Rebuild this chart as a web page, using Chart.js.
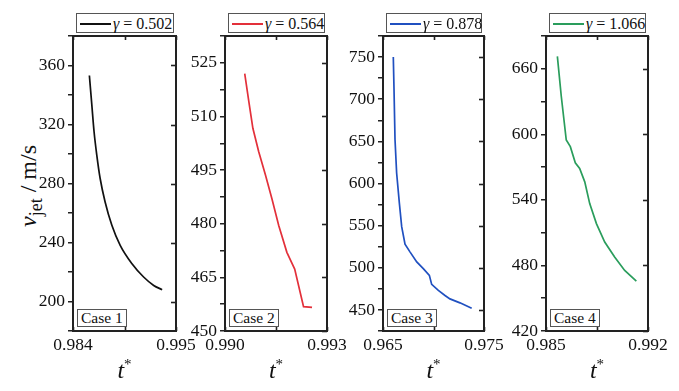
<!DOCTYPE html>
<html lang="en">
<head>
<meta charset="UTF-8">
<title>Jet velocity vs t*</title>
<script src="https://cdn.jsdelivr.net/npm/chart.js"></script>
<style>
  body { margin: 0; background: #fff; width: 679px; height: 391px; position: relative; overflow: hidden;
         font-family: "Liberation Serif", "DejaVu Serif", serif; color: #111; }
  canvas { position: absolute; }
  .legend { position: absolute; top: 13px; height: 20px; border: 1px solid #555; background: #fff;
            font-size: 16px; line-height: 19px; white-space: nowrap; box-sizing: border-box; }
  .legend .swatch { display: inline-block; width: 31px; height: 0; border-top: 2px solid; vertical-align: middle;
                    margin: 0 2px 0 3px; position: relative; top: -1px; }
  .case { position: absolute; top: 309px; height: 18px; border: 1px solid #555; background: #fff;
          font-size: 15.5px; line-height: 16px; padding: 0 3px; box-sizing: border-box; }
  .ytitle { position: absolute; left: 31px; top: 186px; font-size: 24px; white-space: nowrap;
            transform: translate(-50%, -50%) rotate(-90deg); }
  .xtitle { position: absolute; top: 356px; font-size: 24px; transform: translateX(-50%); }
  sub { font-size: 18px; }
  sup { font-size: 15px; }
</style>
</head>
<body>

<div class="ytitle"><i>v</i><sub>jet</sub> / m/s</div>

<script>
// gamma values for each case
const gammas = ['0.502', '0.564', '0.878', '1.066'];
const caseNames = ['Case 1', 'Case 2', 'Case 3', 'Case 4'];
const colors = ['#111111', '#e3303a', '#2050c0', '#2a9d5c'];

// Case 1
const t1 = [0.98575, 0.98601, 0.98625, 0.98654, 0.98690, 0.98743, 0.98815, 0.98904, 0.99030, 0.99154, 0.99262, 0.99352];
const v1 = [353.2, 333.3, 315.1, 299.3, 283.4, 267.5, 251.7, 238.1, 225.6, 216.6, 210.9, 208.0];
// Case 2
const t2 = [0.99058, 0.99070, 0.99082, 0.99099, 0.99119, 0.99138, 0.99158, 0.99182, 0.99205, 0.99231, 0.99256];
const v2 = [522.0, 514.2, 506.7, 500.2, 493.6, 487.0, 479.5, 472.0, 467.3, 456.8, 456.6];
// Case 3
const t3 = [0.96602, 0.96609, 0.96619, 0.96635, 0.96662, 0.96685, 0.96718, 0.96767, 0.96834, 0.96899, 0.96959, 0.96982, 0.97048, 0.97114, 0.97163, 0.97262, 0.97378];
const v3 = [750, 712, 652, 612.5, 576.7, 548.8, 528.1, 518.9, 507, 499, 491, 480.3, 473.1, 467.1, 463.1, 458.4, 452];
// Case 4
const t4 = [0.98578, 0.98605, 0.98639, 0.98667, 0.98701, 0.98731, 0.98766, 0.98800, 0.98846, 0.98903, 0.98971, 0.99040, 0.99120];
const v4 = [671.3, 634.6, 594.8, 588.7, 574, 568.8, 556.5, 536.6, 518.3, 501.4, 487.7, 475.4, 465.6];

// axis ranges and tick labels
const xTicks1 = [0.984, 0.9895, 0.995], xLabels1 = [0.984, 0.995];
const xTicks2 = [0.990, 0.9915, 0.993], xLabels2 = [0.990, 0.993];
const xTicks3 = [0.965, 0.970, 0.975],  xLabels3 = [0.965, 0.975];
const xTicks4 = [0.985, 0.9885, 0.992], xLabels4 = [0.985, 0.992];
const yRange1 = [180, 380],   yStep1 = 20,  yLabels1 = [200, 240, 280, 320, 360];
const yRange2 = [450, 532.5], yStep2 = 7.5, yLabels2 = [450, 465, 480, 495, 510, 525];
const yRange3 = [425, 775],   yStep3 = 25,  yLabels3 = [450, 500, 550, 600, 650, 700, 750];
const yRange4 = [420, 690],   yStep4 = 30,  yLabels4 = [420, 480, 540, 600, 660];

const panels = [
  { t: t1, v: v1, xt: xTicks1, xl: xLabels1, yr: yRange1, ys: yStep1, yl: yLabels1, L: 73,  R: 176, mono: true },
  { t: t2, v: v2, xt: xTicks2, xl: xLabels2, yr: yRange2, ys: yStep2, yl: yLabels2, L: 225, R: 327 },
  { t: t3, v: v3, xt: xTicks3, xl: xLabels3, yr: yRange3, ys: yStep3, yl: yLabels3, L: 383, R: 484 },
  { t: t4, v: v4, xt: xTicks4, xl: xLabels4, yr: yRange4, ys: yStep4, yl: yLabels4, L: 546, R: 648 }
];

const TOP = 36, BOTTOM = 331, PAD_T = 14, PAD_R = 26, YW = 60, XH = 32;

// frame + inward ticks (right side majors, top/bottom x ticks)
const framePlugin = {
  id: 'frame',
  afterDraw(chart) {
    const ctx = chart.ctx, a = chart.chartArea;
    const ys = chart.scales.y, xs = chart.scales.x;
    const yl = chart.options.plugins.frame.yLabels;
    ctx.save();
    ctx.strokeStyle = '#222';
    ctx.lineWidth = 1.6;
    ys.ticks.forEach(tk => {
      if (!yl.includes(tk.value)) return;
      const y = Math.round(ys.getPixelForValue(tk.value)) + 0.5;
      ctx.beginPath(); ctx.moveTo(a.right, y); ctx.lineTo(a.right - 5, y); ctx.stroke();
    });
    xs.ticks.forEach(tk => {
      const x = Math.round(xs.getPixelForValue(tk.value)) + 0.5;
      ctx.beginPath(); ctx.moveTo(x, a.bottom); ctx.lineTo(x, a.bottom - 4); ctx.stroke();
      ctx.beginPath(); ctx.moveTo(x, a.top); ctx.lineTo(x, a.top + 4); ctx.stroke();
    });
    ctx.lineWidth = 2;
    ctx.strokeRect(a.left, a.top, a.right - a.left, a.bottom - a.top);
    ctx.restore();
  }
};

panels.forEach((p, i) => {
  const cv = document.createElement('canvas');
  const w = (p.R - p.L) + YW + PAD_R, h = (BOTTOM - TOP) + PAD_T + XH;
  cv.width = w; cv.height = h;
  cv.style.left = (p.L - YW) + 'px';
  cv.style.top = (TOP - PAD_T) + 'px';
  cv.style.width = w + 'px'; cv.style.height = h + 'px';
  document.body.appendChild(cv);

  new Chart(cv.getContext('2d'), {
    type: 'scatter',
    data: {
      datasets: [{
        label: 'γ = ' + gammas[i],
        data: p.t.map((t, k) => ({ x: t, y: p.v[k] })),
        showLine: true,
        borderColor: colors[i],
        borderWidth: 1.7,
        pointRadius: 0,
        tension: 0,
        cubicInterpolationMode: p.mono ? 'monotone' : 'default'
      }]
    },
    options: {
      responsive: false,
      animation: false,
      layout: { padding: { top: PAD_T, right: PAD_R, left: 0, bottom: 0 } },
      plugins: { legend: { display: false }, tooltip: { enabled: false }, frame: { yLabels: p.yl } },
      scales: {
        x: {
          type: 'linear',
          min: p.xt[0], max: p.xt[p.xt.length - 1],
          afterBuildTicks: s => { s.ticks = p.xt.map(v => ({ value: v })); },
          afterFit: s => { s.height = XH; },
          grid: { drawOnChartArea: false, drawTicks: false },
          border: { display: false },
          ticks: {
            autoSkip: false, maxRotation: 0, padding: 4, color: '#111',
            font: { family: 'Liberation Serif', size: 17.5 },
            callback: v => p.xl.includes(v) ? v.toFixed(3) : ''
          }
        },
        y: {
          min: p.yr[0], max: p.yr[1],
          afterFit: s => { s.width = YW; },
          grid: { drawOnChartArea: false, drawTicks: true, tickLength: 5, color: '#222', lineWidth: 1.5 },
          border: { display: false },
          ticks: {
            stepSize: p.ys, autoSkip: false, padding: 3, color: '#111',
            font: { family: 'Liberation Serif', size: 17.5 },
            callback: v => p.yl.includes(v) ? String(v) : ''
          }
        }
      }
    },
    plugins: [framePlugin]
  });

  // legend box above the panel
  const lg = document.createElement('div');
  lg.className = 'legend';
  lg.style.left = (p.L + 3) + 'px';
  lg.style.width = (p.R - p.L - 5) + 'px';
  lg.innerHTML = '<span class="swatch" style="border-color:' + colors[i] + '"></span><i>γ</i> = ' + gammas[i];
  document.body.appendChild(lg);

  // case label
  const cs = document.createElement('div');
  cs.className = 'case';
  cs.style.left = (p.L + 4) + 'px';
  cs.textContent = caseNames[i];
  document.body.appendChild(cs);

  // x title
  const xt = document.createElement('div');
  xt.className = 'xtitle';
  xt.style.left = ((p.L + p.R) / 2) + 'px';
  xt.innerHTML = '<i>t</i><sup>*</sup>';
  document.body.appendChild(xt);
});
</script>
</body>
</html>
